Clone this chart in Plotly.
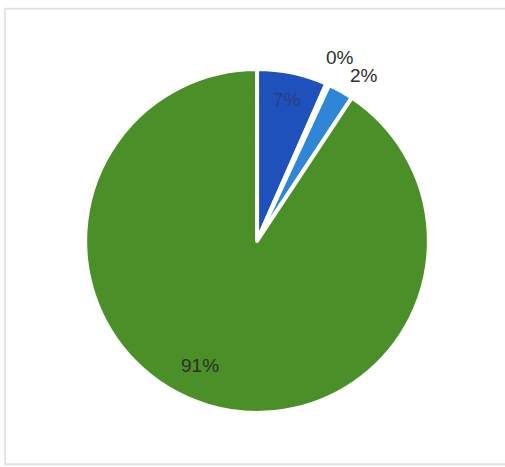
import plotly.graph_objects as go

# Share of each category, in drawing order (clockwise from 12 o'clock)
categories = ["Category A", "Category B", "Category C", "Category D"]
shares = [6.6, 0.3, 2.4, 90.7]
slice_colors = ["#1f51bc", "#e8e2c0", "#2f86d6", "#4a8f27"]

total = sum(shares)
pct_text = [f"{round(v / total * 100)}%" for v in shares]

fig = go.Figure(
    go.Pie(
        labels=categories,
        values=shares,
        sort=False,
        direction="clockwise",
        rotation=0,
        marker=dict(colors=slice_colors, line=dict(color="white", width=4)),
        textinfo="none",
        showlegend=False,
        hoverinfo="label+percent",
        domain=dict(x=[0.168, 0.850], y=[0.116, 0.852]),
    )
)

# Percentage labels, placed by hand (the small slices' labels sit outside the pie)
font_family = "Liberation Sans, Arial, sans-serif"
label_spots = {
    0: (0.568, 0.786, "#2a3f7c"),
    1: (0.673, 0.876, "#2b2f28"),
    2: (0.721, 0.838, "#2b2f28"),
    3: (0.396, 0.218, "#2b2f28"),
}
for idx, (px, py, col) in label_spots.items():
    fig.add_annotation(
        x=px, y=py, xref="paper", yref="paper",
        text=pct_text[idx], showarrow=False,
        font=dict(family=font_family, size=19, color=col),
        xanchor="center", yanchor="middle",
    )

fig.update_layout(
    width=505,
    height=467,
    margin=dict(l=0, r=0, t=0, b=0),
    paper_bgcolor="white",
    plot_bgcolor="white",
    shapes=[
        # light frame around the chart area
        dict(type="rect", xref="paper", yref="paper", x0=0.01, x1=1.05, y0=0.006, y1=0.981,
             line=dict(color="#e4e4e4", width=2), fillcolor="rgba(0,0,0,0)", layer="below"),
    ],
)

fig.write_html("out.html")
